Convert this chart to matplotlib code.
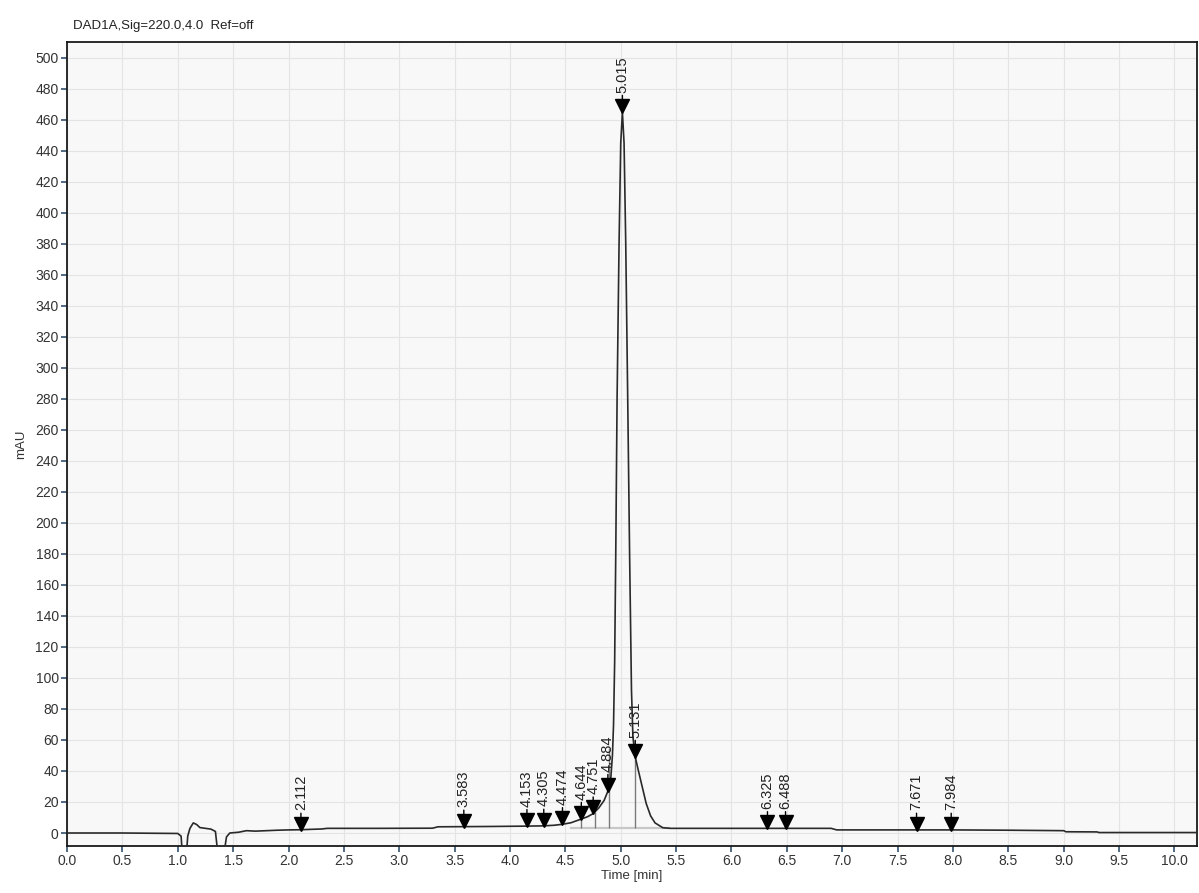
import matplotlib
matplotlib.use("Agg")
import matplotlib.pyplot as plt
from matplotlib.transforms import offset_copy

plt.rcParams["font.family"] = ["Liberation Sans", "DejaVu Sans"]

# detector trace (time in min, signal in mAU)
time_min = [0.00, 0.50, 1.00, 1.03, 1.04, 1.08, 1.09, 1.11, 1.14, 1.17, 1.20, 1.25,
            1.30, 1.34, 1.36, 1.42, 1.44, 1.47, 1.55, 1.62, 1.70, 1.80, 1.90, 2.00,
            2.10, 2.30, 2.35, 2.80, 3.30, 3.35, 3.80, 4.10, 4.30, 4.40, 4.47, 4.55,
            4.644, 4.70, 4.751, 4.80, 4.85, 4.884, 4.91, 4.925, 4.935, 4.945, 4.955,
            4.967, 4.985, 5.000, 5.015, 5.030, 5.045, 5.063, 5.080, 5.097, 5.110,
            5.131, 5.160, 5.200, 5.230, 5.270, 5.310, 5.380, 5.450, 6.000, 6.900,
            6.950, 8.000, 8.500, 9.000, 9.020, 9.300, 9.320, 10.20]
signal_mau = [0.0, 0.0, -0.3, -2.0, -12.0, -12.0, -2.0, 3.0, 6.5, 5.5, 3.5, 3.0,
              2.5, 1.0, -12.0, -12.0, -2.5, 0.0, 0.5, 1.5, 1.2, 1.5, 1.8, 2.0,
              2.1, 2.6, 3.0, 3.0, 3.1, 4.0, 4.2, 4.4, 4.6, 5.0, 5.6, 6.6,
              9.0, 10.5, 12.5, 16.0, 21.0, 27.0, 35.0, 50.0, 70.0, 110.0, 180.0,
              280.0, 381.0, 445.0, 465.0, 445.0, 381.0, 280.0, 180.0, 92.0, 62.0,
              49.0, 40.0, 28.0, 19.0, 11.0, 6.5, 3.4, 3.0, 3.0, 3.0,
              2.0, 2.0, 1.8, 1.5, 0.8, 0.7, 0.3, 0.3]

# integrated peaks: retention time and apex height
peak_rt = [2.112, 3.583, 4.153, 4.305, 4.474, 4.644, 4.751, 4.884, 5.015, 5.131,
           6.325, 6.488, 7.671, 7.984]
peak_height = [2.0, 4.0, 4.4, 4.6, 5.6, 9.0, 12.5, 27.0, 465.0, 49.0,
               3.0, 3.0, 2.0, 2.0]
peak_labels = ["2.112", "3.583", "4.153", "4.305", "4.474", "4.644", "4.751",
               "4.884", "5.015", "5.131", "6.325", "6.488", "7.671", "7.984"]

# peak separation: drop lines and integration baseline
drop_rt = [4.645, 4.765, 4.895, 5.126]
drop_top = [9.5, 13.5, 55.0, 50.0]
base_rt = [4.55, 5.44]
base_mau = [3.0, 3.0]

x_ticks = [i * 0.5 for i in range(21)]
y_ticks = list(range(0, 501, 20))

fig = plt.figure(figsize=(11.99, 8.93), dpi=100, facecolor="white")
ax = fig.add_axes([0.0559, 0.0526, 0.9421, 0.9004])
ax.set_facecolor("#f8f8f8")

ax.plot(base_rt, base_mau, color="#c8c8c8", lw=1.6, zorder=2)
ax.vlines(drop_rt, [3.0] * len(drop_rt), drop_top, color="#7a7a7a", lw=1.0, zorder=2)
ax.plot(time_min, signal_mau, color="#2a2a2a", lw=1.2, zorder=3)

# triangles sit with their tip on the trace
tri = offset_copy(ax.transData, fig=fig, y=4.5, units="points")
ax.plot(peak_rt, peak_height, linestyle="none", marker="v", ms=9.5,
        color="black", transform=tri, zorder=4)
for rt, h, lbl in zip(peak_rt, peak_height, peak_labels):
    ax.annotate(lbl, xy=(rt, h), xytext=(0, 14), textcoords="offset points",
                rotation=90, ha="center", va="bottom", fontsize=10.5, color="#222222",
                arrowprops=dict(arrowstyle="-", lw=1.0, color="black",
                                shrinkA=0, shrinkB=0), zorder=5)

ax.set_xlim(0, 10.2)
ax.set_ylim(-8.4, 510.2)
ax.set_xticks(x_ticks)
ax.set_xticklabels([f"{v:.1f}" for v in x_ticks])
ax.set_yticks(y_ticks)
ax.grid(True, color="#e4e4e4", lw=0.8)
ax.set_axisbelow(True)
ax.tick_params(direction="out", length=4, width=1.2, color="#34506e",
               labelsize=10, labelcolor="#333333", pad=2)
for sp in ax.spines.values():
    sp.set_color("#1a1a1a")
    sp.set_linewidth(1.3)

ax.set_xlabel("Time [min]", fontsize=9.5, color="#333333", labelpad=1)
ax.set_ylabel("mAU", fontsize=9.5, color="#333333", labelpad=6)
fig.text(0.061, 0.964, "DAD1A,Sig=220.0,4.0  Ref=off", fontsize=9.5,
         color="#222222", ha="left", va="bottom")

fig.savefig("out.png", dpi=100, facecolor="white")
